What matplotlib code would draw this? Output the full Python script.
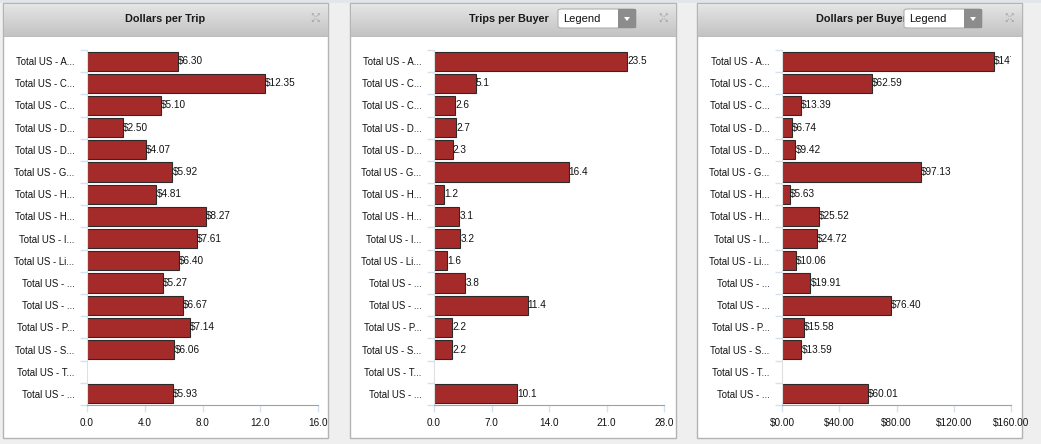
import numpy as np
import matplotlib
matplotlib.use("Agg")
import matplotlib.pyplot as plt
from matplotlib.patches import Rectangle, FancyBboxPatch, Polygon

plt.rcParams['font.family'] = ['Liberation Sans', 'DejaVu Sans']

categories = ["Total US - A...", "Total US - C...", "Total US - C...", "Total US - D...",
              "Total US - D...", "Total US - G...", "Total US - H...", "Total US - H...",
              "Total US - I...", "Total US - Li...", "Total US - ...", "Total US - ...",
              "Total US - P...", "Total US - S...", "Total US - T...", "Total US - ..."]

# None = no bar for that row
dollars_per_trip = [6.30, 12.35, 5.10, 2.50, 4.07, 5.92, 4.81, 8.27, 7.61, 6.40,
                    5.27, 6.67, 7.14, 6.06, None, 5.93]
trips_per_buyer = [23.5, 5.1, 2.6, 2.7, 2.3, 16.4, 1.2, 3.1, 3.2, 1.6,
                   3.8, 11.4, 2.2, 2.2, None, 10.1]
dollars_per_buyer = [147.90, 62.59, 13.39, 6.74, 9.42, 97.13, 5.63, 25.52, 24.72, 10.06,
                     19.91, 76.40, 15.58, 13.59, None, 60.01]

titles = ["Dollars per Trip", "Trips per Buyer", "Dollars per Buyer"]
x_ticks = [[0, 4, 8, 12, 16], [0, 7, 14, 21, 28], [0, 40, 80, 120, 160]]
x_ticklabels = [["0.0", "4.0", "8.0", "12.0", "16.0"],
                ["0.0", "7.0", "14.0", "21.0", "28.0"],
                ["$0.00", "$40.00", "$80.00", "$120.00", "$160.00"]]

W, H = 1041, 444
BAR = "#a52a2a"
FS = 7.2


def fx(px):
    return px / W


def fy(py):
    return 1 - py / H


fig = plt.figure(figsize=(W / 100, H / 100), dpi=100)
fig.patch.set_facecolor("#efefef")

# thin strip on top
fig.patches.append(Rectangle((0, fy(3)), 1, 3 / H, transform=fig.transFigure,
                             facecolor="#e2e6ea", edgecolor="none", zorder=-2))

panels = [(3, 328), (350, 676), (697, 1022)]
plot_x = [(87, 318), (434, 664), (782, 1011)]
series = [dollars_per_trip, trips_per_buyer, dollars_per_buyer]
fmts = ["${:.2f}", "{:.1f}", "${:.2f}"]
title_gap = [0, 9, -3]

grad = np.linspace(0, 1, 64).reshape(-1, 1)
hdr_cmap = matplotlib.colors.LinearSegmentedColormap.from_list("hdr", ["#e6e6e6", "#c2c2c2"])

for i in range(3):
    x0, x1 = panels[i]
    # card
    fig.patches.append(Rectangle((fx(x0), fy(438)), fx(x1 - x0), (438 - 3) / H,
                                 transform=fig.transFigure, facecolor="white",
                                 edgecolor="#b4b4b4", linewidth=1, zorder=-1))
    # header gradient
    hax = fig.add_axes([fx(x0 + 1), fy(37), fx(x1 - x0 - 1.5), (37 - 3.5) / H])
    hax.imshow(grad, aspect="auto", cmap=hdr_cmap, extent=[0, 1, 0, 1], origin="upper")
    hax.set_xlim(0, 1)
    hax.set_ylim(0, 1)
    hax.axis("off")
    hax.axhline(0.0, color="#aaaaaa", linewidth=1)

    if i == 0:
        fig.text(fx((x0 + x1) / 2), fy(19), titles[i], ha="center", va="center",
                 fontsize=7.8, fontweight="bold", color="#1a1a1a")
    else:
        bx0 = x1 - 118
        fig.text(fx(bx0 - title_gap[i]), fy(19), titles[i], ha="right", va="center",
                 fontsize=7.8, fontweight="bold", color="#1a1a1a", zorder=1)
        # legend dropdown
        box = FancyBboxPatch((fx(bx0), fy(28)), fx(78), 19 / H,
                             boxstyle="round,pad=0,rounding_size=0.004",
                             transform=fig.transFigure, facecolor="white",
                             edgecolor="#b0b0b0", linewidth=0.8, zorder=5)
        fig.patches.append(box)
        fig.patches.append(Rectangle((fx(bx0 + 60), fy(28)), fx(18), 19 / H,
                                     transform=fig.transFigure, facecolor="#8c8c8c",
                                     edgecolor="none", zorder=6))
        tx = bx0 + 69
        fig.patches.append(Polygon([(fx(tx - 3), fy(17)), (fx(tx + 3), fy(17)), (fx(tx), fy(21))],
                                   closed=True, transform=fig.transFigure,
                                   facecolor="white", edgecolor="none", zorder=7))
        fig.text(fx(bx0 + 5), fy(19), "Legend", ha="left", va="center",
                 fontsize=8, color="#111111", zorder=8)

    # expand icon
    fig.text(fx(x1 - 13), fy(18), "\u2196\u2197\n\u2199\u2198", ha="center", va="center",
             fontsize=4.5, color="#9a9a9a", linespacing=0.9, family="DejaVu Sans")

    # bar plot
    px0, px1 = plot_x[i]
    ax = fig.add_axes([fx(px0), fy(405), fx(px1 - px0), (405 - 50) / H])
    vals = series[i]
    y = np.arange(len(categories))
    for k, v in enumerate(vals):
        if v is None:
            continue
        ax.barh(y[k], v, height=0.86, color=BAR, edgecolor="#2a2a2a", linewidth=0.8)
        ax.text(v, y[k], fmts[i].format(v), ha="left", va="center", fontsize=FS,
                color="#111111", clip_on=True)
    ax.set_ylim(len(categories) - 0.5, -0.5)
    ax.set_xlim(x_ticks[i][0], x_ticks[i][-1])
    ax.set_xticks(x_ticks[i])
    ax.set_xticklabels(x_ticklabels[i], fontsize=FS, color="#111111")
    ax.set_yticks(y)
    ax.set_yticklabels(categories, fontsize=6.9, color="#111111")
    ax.set_yticks(np.arange(len(categories) + 1) - 0.5, minor=True)
    ax.tick_params(axis="y", which="major", length=0, pad=9)
    ax.tick_params(axis="y", which="minor", length=5, color="#d4e2f0", width=1)
    ax.tick_params(axis="x", length=5, color="#d4e2f0", width=1, pad=4)
    for s in ["top", "right"]:
        ax.spines[s].set_visible(False)
    ax.spines["bottom"].set_color("#a0a0a0")
    ax.spines["left"].set_color("#e0e0e0")
    ax.patch.set_alpha(0)

fig.savefig("out.png", dpi=100, facecolor=fig.get_facecolor())
